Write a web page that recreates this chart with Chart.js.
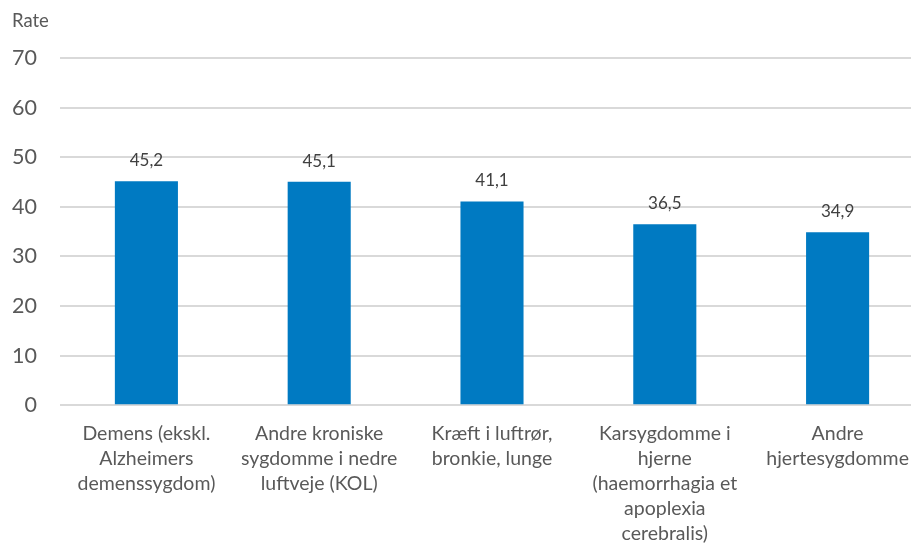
<!DOCTYPE html>
<html>
<head>
<meta charset="utf-8">
<script src="https://cdn.jsdelivr.net/npm/chart.js@4.4.0/dist/chart.umd.min.js"></script>
<style>
  html, body { margin: 0; padding: 0; background: #fff; overflow: hidden; }
  #wrap { width: 924px; height: 562px; }
</style>
</head>
<body>
<div id="wrap"><canvas id="myChart" width="924" height="562"></canvas></div>
<script>
const categories = [
    ['Demens (ekskl.', 'Alzheimers', 'demenssygdom)'],
    ['Andre kroniske', 'sygdomme i nedre', 'luftveje (KOL)'],
    ['Kræft i luftrør,', 'bronkie, lunge'],
    ['Karsygdomme i', 'hjerne', '(haemorrhagia et', 'apoplexia', 'cerebralis)'],
    ['Andre', 'hjertesygdomme']
];
const rates = [45.2, 45.1, 41.1, 36.5, 34.9];
const yTicks = [0, 10, 20, 30, 40, 50, 60, 70];

const ctx = document.getElementById('myChart').getContext('2d');

// values over the bars, with a decimal comma
const valueLabels = {
    id: 'valueLabels',
    afterDatasetsDraw(chart) {
        const c = chart.ctx;
        const meta = chart.getDatasetMeta(0);
        c.save();
        c.font = '17px Lato, sans-serif';
        c.fillStyle = '#404040';
        c.textAlign = 'center';
        c.textBaseline = 'bottom';
        meta.data.forEach((bar, i) => {
            c.fillText(rates[i].toFixed(1).replace('.', ','), bar.x, bar.y - 12);
        });
        c.restore();
    }
};

const chart = new Chart(ctx, {
    type: 'bar',
    data: {
        labels: categories,
        datasets: [{
            label: 'Rate',
            data: rates,
            backgroundColor: '#007AC2',
            barPercentage: 0.365,
            categoryPercentage: 1
        }]
    },
    plugins: [valueLabels],
    options: {
        responsive: false,
        animation: false,
        layout: {
            padding: {left: 12, right: 0, top: 10, bottom: 0}
        },
        plugins: {
            legend: {display: false},
            tooltip: {enabled: false},
            title: {
                display: true,
                text: 'Rate',
                align: 'start',
                color: '#595959',
                font: {family: 'Lato, sans-serif', size: 18.5, weight: 'normal'},
                padding: {top: 0, bottom: 26}
            }
        },
        scales: {
            x: {
                grid: {display: false, drawTicks: false},
                border: {display: false},
                afterFit: axis => { axis.paddingLeft = 0; axis.paddingRight = 0; },
                ticks: {
                    color: '#595959',
                    font: {family: 'Lato, sans-serif', size: 19.5, lineHeight: 1.28},
                    padding: 16,
                    maxRotation: 0,
                    autoSkip: false
                }
            },
            y: {
                min: 0,
                max: 70,
                afterBuildTicks: axis => { axis.ticks = yTicks.map(v => ({value: v})); },
                afterFit: axis => { axis.width = 48; },
                grid: {color: '#D9D9D9', lineWidth: 2, drawTicks: false},
                border: {display: false},
                ticks: {
                    color: '#595959',
                    font: {family: 'Lato, sans-serif', size: 21.5},
                    padding: 23
                }
            }
        }
    }
});
</script>
</body>
</html>
